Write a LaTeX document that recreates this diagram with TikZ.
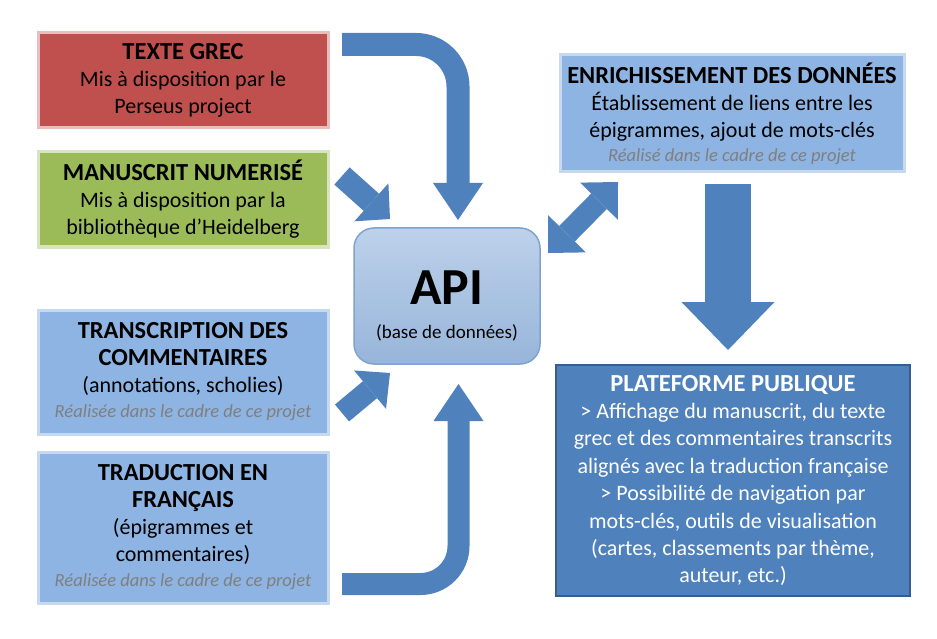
\documentclass[tikz,border=0pt]{standalone}
\usepackage{fontspec}
\setmainfont{Carlito}
\usetikzlibrary{positioning, calc, arrows.meta}

\definecolor{grecRed}{HTML}{C0504D}
\definecolor{grecGlow}{HTML}{E8BDBC}
\definecolor{manuGreen}{HTML}{9BBB59}
\definecolor{manuGlow}{HTML}{D7E4BD}
\definecolor{boxBlue}{HTML}{8DB4E2}
\definecolor{boxGlow}{HTML}{C6D9F1}
\definecolor{arrowBlue}{HTML}{4F81BD}
\definecolor{darkBlue}{HTML}{385D8A}
\definecolor{apiTop}{HTML}{BDD1EA}
\definecolor{apiBottom}{HTML}{97B5DA}
\definecolor{apiEdge}{HTML}{7FA3CF}
\definecolor{noteGray}{HTML}{7F7F7F}

\newcommand{\titre}[1]{{\fontsize{24.5}{27}\selectfont\bfseries #1}}
\newcommand{\realise}[1]{{\fontsize{18.5}{20}\selectfont\itshape\color{noteGray}#1}}

\tikzset{
    box/.style={minimum width=290pt, inner sep=0pt, align=center, line width=3pt,
        font=\fontsize{22}{27}\selectfont},
    blueBox/.style={box, fill=boxBlue, draw=boxGlow},
    flow/.style={color=arrowBlue, line width=#1},
    flow/.default=23pt
}

\begin{document}
\begin{tikzpicture}[x=1pt, y=-1pt]
    \useasboundingbox (0,0) rectangle (937,639);

    % sources on the left
    \node[box, fill=grecRed, draw=grecGlow, minimum height=95pt] (texteGrec) at (183,80.5)
        {\titre{TEXTE GREC}\\Mis à disposition par le\\Perseus project};
    \node[box, fill=manuGreen, draw=manuGlow, minimum height=95pt] (manuscrit) at (183,199.5)
        {\titre{MANUSCRIT NUMERISÉ}\\Mis à disposition par la\\bibliothèque d’Heidelberg};
    \node[blueBox, minimum height=124pt] (transcription) at (183,372)
        {\titre{TRANSCRIPTION DES}\\\titre{COMMENTAIRES}\\(annotations, scholies)\\[-2pt]\realise{Réalisée dans le cadre de ce projet}};
    \node[blueBox, minimum height=151pt] (traduction) at (183,527.5)
        {\titre{TRADUCTION EN}\\\titre{FRANÇAIS}\\(épigrammes et\\commentaires)\\[-2pt]\realise{Réalisée dans le cadre de ce projet}};

    % api
    \node[minimum width=186pt, minimum height=136pt, rounded corners=20pt, line width=1.5pt,
        top color=apiTop, bottom color=apiBottom, draw=apiEdge] (api) at (447,296) {};
    \node[font=\fontsize{52}{52}\selectfont\bfseries] (apiLabel) at (447,288) {API};
    \node[font=\fontsize{19}{20}\selectfont, below=13pt of apiLabel] (apiSub) {(base de données)};

    % right side
    \node[blueBox, minimum width=344pt, minimum height=117pt] (enrichissement) at (732,113.5)
        {\titre{ENRICHISSEMENT DES DONNÉES}\\Établissement de liens entre les\\épigrammes, ajout de mots-clés\\[-3pt]\realise{Réalisé dans le cadre de ce projet}};
    \node[box, fill=arrowBlue, draw=darkBlue, line width=1.5pt, text=white,
        minimum width=354pt, minimum height=231pt, font=\fontsize{22}{27.4}\selectfont] (plateforme) at (733,480.5)
        {\titre{PLATEFORME PUBLIQUE}\\> Affichage du manuscrit, du texte\\grec et des commentaires transcrits\\alignés avec la traduction française\\> Possibilité de navigation par\\mots-clés, outils de visualisation\\(cartes, classements par thème,\\auteur, etc.)};

    % arrow ends
    \coordinate (grecOut) at (342,44.5);
    \coordinate (apiInTop) at (458,220);
    \coordinate (manuOut) at (342,176);
    \coordinate (apiInLeft) at (390,219);
    \coordinate (transOut) at (342,413);
    \coordinate (apiInLow) at (390,373);
    \coordinate (tradOut) at (342,584);
    \coordinate (apiInBottom) at (458.5,384);
    \coordinate (apiOut) at (548,253);
    \coordinate (enrichIn) at (618,182);
    \coordinate (enrichOut) at (728,184);
    \coordinate (plateIn) at (728,350);

    % arrows
    \draw[flow, rounded corners=42pt, -{Triangle[length=37pt, width=50pt, line width=0pt]}] (grecOut) -| (apiInTop);
    \draw[flow, -{Triangle[length=25pt, width=51pt, line width=0pt]}] (manuOut) -- (apiInLeft);
    \draw[flow=22pt, -{Triangle[length=26pt, width=50pt, line width=0pt]}] (transOut) -- (apiInLow);
    \draw[flow=22pt, rounded corners=38pt, -{Triangle[length=37pt, width=50pt, line width=0pt]}] (tradOut) -| (apiInBottom);
    \draw[flow=22pt, {Triangle[length=27pt, width=53pt, line width=0pt]}-{Triangle[length=27pt, width=53pt, line width=0pt]}] (apiOut) -- (enrichIn);
    \draw[flow=46pt, -{Triangle[length=48pt, width=93pt, line width=0pt]}] (enrichOut) -- (plateIn);
\end{tikzpicture}
\end{document}
